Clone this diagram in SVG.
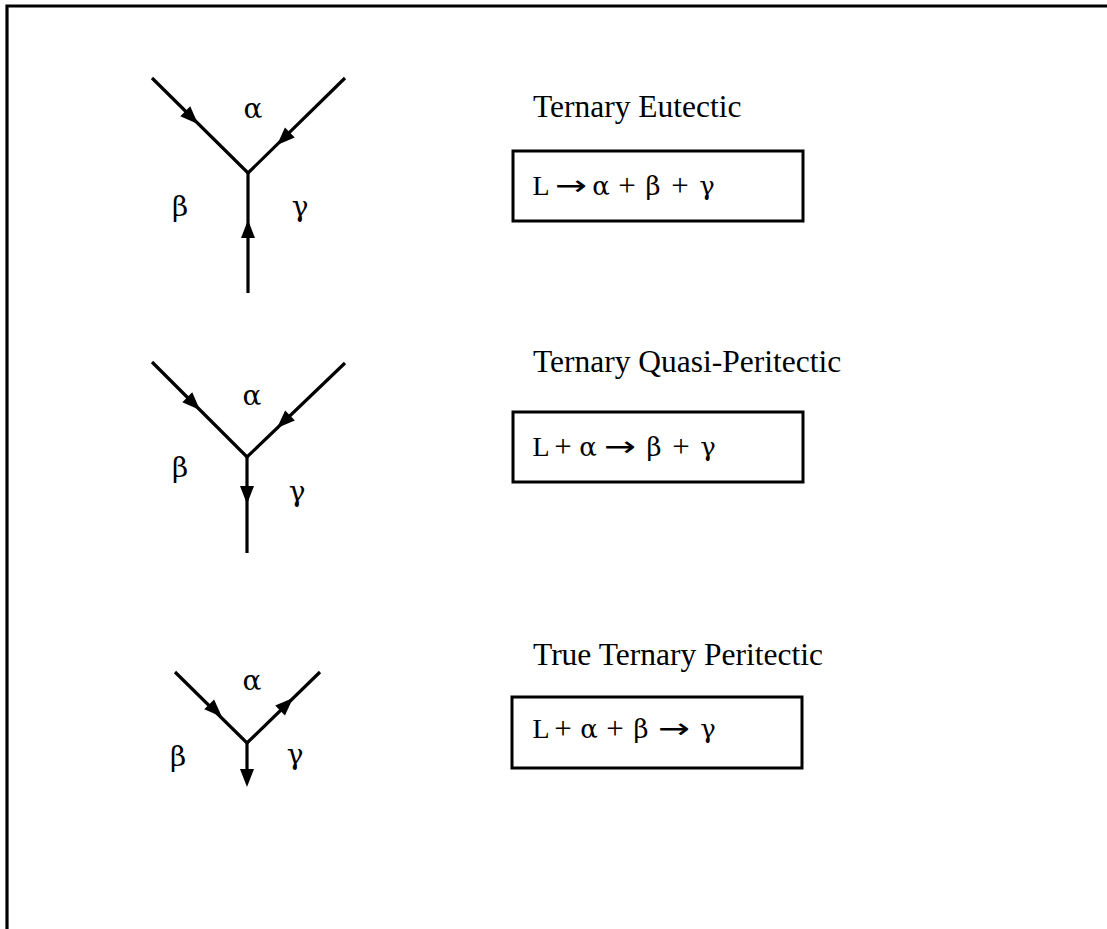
<svg xmlns="http://www.w3.org/2000/svg" width="1107" height="929" viewBox="0 0 1107 929">
<style>
.ln{fill:none;stroke:#000;stroke-width:3.2;stroke-linecap:butt;stroke-linejoin:miter}
.lbl{font-family:"DejaVu Serif","Liberation Serif",serif;font-size:28px;fill:#000;text-anchor:middle}
.ttl{font-family:"Liberation Serif","Times New Roman",serif;font-size:31.5px;fill:#000}
.eq{font-family:"Liberation Serif","Times New Roman",serif;font-size:28px;fill:#000;text-anchor:middle}
.pl{font-family:"Liberation Serif","Times New Roman",serif;font-size:31px;fill:#000;text-anchor:middle}
.gr{font-family:"DejaVu Serif","Liberation Serif",serif;font-size:26px;fill:#000;text-anchor:middle}
.ar{font-family:"DejaVu Sans","Liberation Sans",sans-serif;font-size:28px;fill:#000}
.box{fill:none;stroke:#000;stroke-width:3}
</style>
<defs>
<path id="ah" d="M0,0 L-18,-7 L-18,7 Z" fill="#000"/>
</defs>
<rect width="1107" height="929" fill="#fff"/>
<polyline class="ln" points="7,929 7,6 1107,6"/>
<g id="connectors">
<g id="eutectic-lines">
<polyline class="ln" points="152,78 248,173 345,78"/>
<line class="ln" x1="248" y1="172" x2="248" y2="293"/>
<use href="#ah" transform="translate(198,124) rotate(45)"/>
<use href="#ah" transform="translate(277,145) rotate(135.6)"/>
<use href="#ah" transform="translate(248,220) rotate(-90)"/>
</g>
<g id="quasi-lines">
<polyline class="ln" points="152,362 247,457 345,363"/>
<line class="ln" x1="247" y1="456" x2="247" y2="553"/>
<use href="#ah" transform="translate(200,410) rotate(45)"/>
<use href="#ah" transform="translate(277,428) rotate(136.2)"/>
<use href="#ah" transform="translate(247,504) rotate(90)"/>
</g>
<g id="peritectic-lines">
<polyline class="ln" points="175,672 247,743 320,672"/>
<line class="ln" x1="247" y1="742" x2="247" y2="780"/>
<use href="#ah" transform="translate(222,717) rotate(44.6)"/>
<use href="#ah" transform="translate(293,698) rotate(-44.2)"/>
<use href="#ah" transform="translate(247,787) rotate(90)"/>
</g>
</g>
<g id="node-eutectic">
<text class="lbl" x="253" y="118">α</text>
<text class="lbl" x="180" y="216">β</text>
<text class="lbl" x="300" y="216">γ</text>
<text class="ttl" x="533" y="117">Ternary Eutectic</text>
<rect class="box" x="513" y="151" width="290" height="70"/>
<text class="eq" x="541" y="195">L</text>
<text class="ar" x="555" y="195" textLength="32" lengthAdjust="spacingAndGlyphs">→</text>
<text class="gr" x="601" y="195">α</text>
<text class="pl" x="627" y="196">+</text>
<text class="gr" x="653" y="195">β</text>
<text class="pl" x="680" y="196">+</text>
<text class="gr" x="707" y="195">γ</text>
</g>
<g id="node-quasi">
<text class="lbl" x="252" y="405">α</text>
<text class="lbl" x="180" y="477">β</text>
<text class="lbl" x="297" y="501">γ</text>
<text class="ttl" x="533" y="372">Ternary Quasi-Peritectic</text>
<rect class="box" x="513" y="412" width="290" height="70"/>
<text class="eq" x="541" y="456">L</text>
<text class="pl" x="563" y="457">+</text>
<text class="gr" x="588" y="456">α</text>
<text class="ar" x="604" y="456" textLength="32" lengthAdjust="spacingAndGlyphs">→</text>
<text class="gr" x="654" y="456">β</text>
<text class="pl" x="681" y="457">+</text>
<text class="gr" x="708" y="456">γ</text>
</g>
<g id="node-peritectic">
<text class="lbl" x="252" y="690">α</text>
<text class="lbl" x="178" y="766">β</text>
<text class="lbl" x="295" y="764">γ</text>
<text class="ttl" x="533" y="665">True Ternary Peritectic</text>
<rect class="box" x="512" y="697" width="290" height="71"/>
<text class="eq" x="541" y="738">L</text>
<text class="pl" x="563" y="739">+</text>
<text class="gr" x="589" y="738">α</text>
<text class="pl" x="615" y="739">+</text>
<text class="gr" x="641" y="738">β</text>
<text class="ar" x="658" y="738" textLength="32" lengthAdjust="spacingAndGlyphs">→</text>
<text class="gr" x="708" y="738">γ</text>
</g>
</svg>
